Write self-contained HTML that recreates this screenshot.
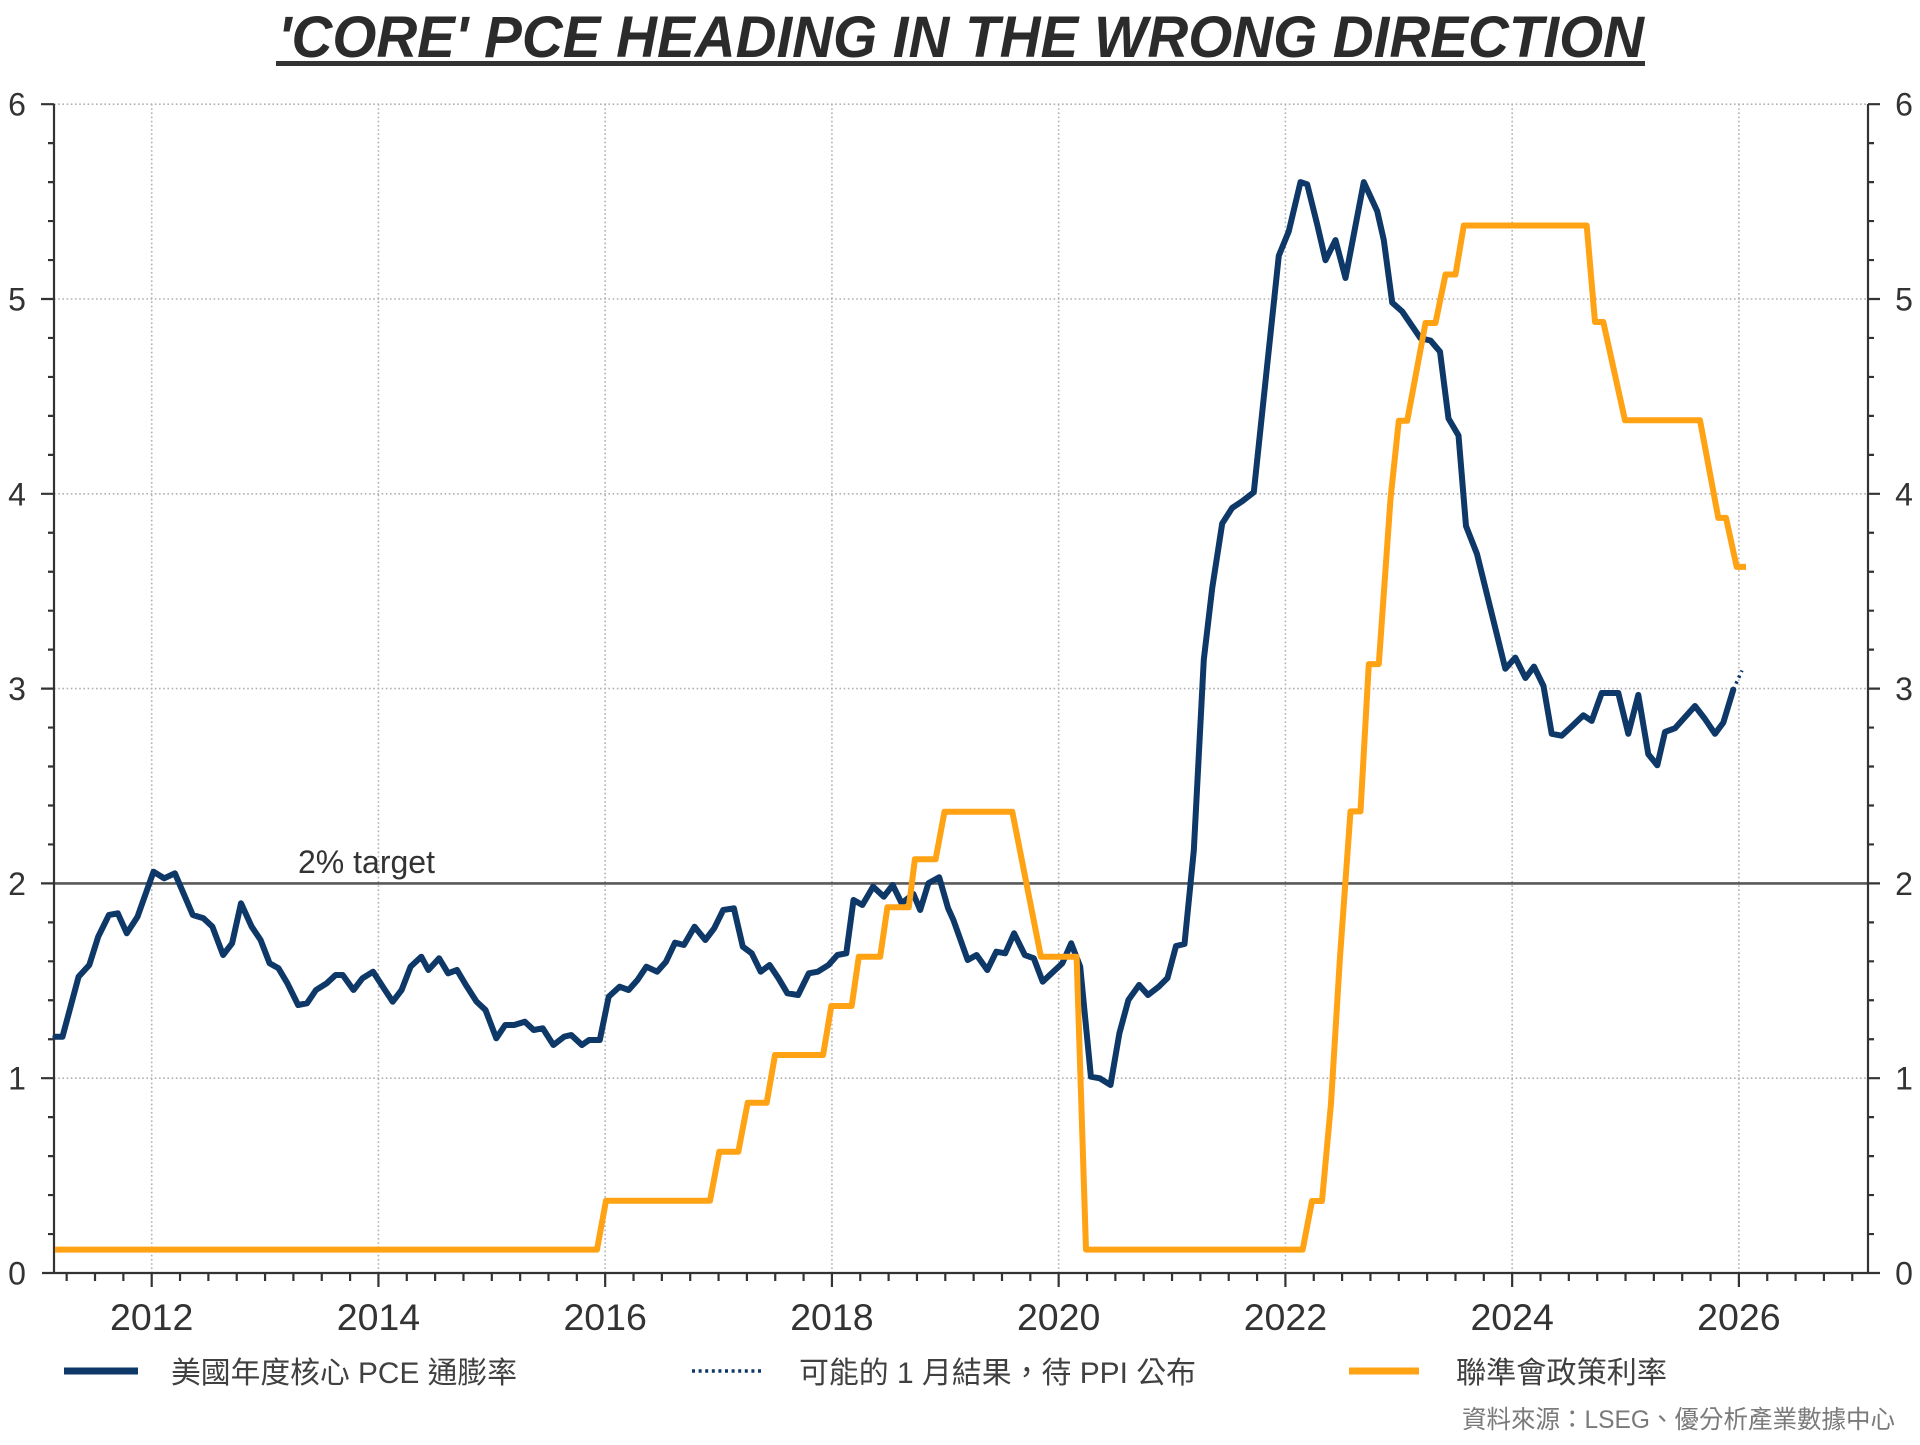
<!DOCTYPE html>
<html>
<head>
<meta charset="utf-8">
<style>
html,body{margin:0;padding:0;background:#fff;}
svg{display:block;}
</style>
</head>
<body>
<svg width="1920" height="1445" viewBox="0 0 1920 1445" xmlns="http://www.w3.org/2000/svg">
<rect x="0" y="0" width="1920" height="1445" fill="#ffffff"/>

<!-- Title -->
<text x="278" y="57" font-family="Liberation Sans, Arial, sans-serif" font-size="58" font-weight="bold" font-style="italic" fill="#2b2b2b" textLength="1366" lengthAdjust="spacingAndGlyphs">'CORE' PCE HEADING IN THE WRONG DIRECTION</text>
<rect x="276" y="61" width="1369" height="5" fill="#333"/>

<!-- Gridlines -->
<g stroke="#b0b0b0" stroke-width="1.6" stroke-dasharray="1.6 2.6" fill="none">
<path d="M151.7 104V1273M378.44 104V1273M605.18 104V1273M831.93 104V1273M1058.67 104V1273M1285.41 104V1273M1512.16 104V1273M1738.9 104V1273"/>
<path d="M54 104.2H1868M54 299H1868M54 493.8H1868M54 688.6H1868M54 1078.2H1868"/>
</g>

<!-- 2% target line -->
<line x1="54" y1="883.4" x2="1868" y2="883.4" stroke="#5a5a5a" stroke-width="2.6"/>
<text x="298" y="873" font-family="Liberation Sans, Arial, sans-serif" font-size="32" fill="#333">2% target</text>

<!-- Axes -->
<g stroke="#333" stroke-width="2.2" fill="none">
<path d="M54 104V1273M1868 104V1273M42 1273H1880"/>
<!-- left y ticks -->
<path d="M41 104.2H54M41 299H54M41 493.8H54M41 688.6H54M41 883.4H54M41 1078.2H54"/>
<path d="M48 1234.04H54M48 1195.08H54M48 1156.12H54M48 1117.16H54M48 1039.24H54M48 1000.28H54M48 961.32H54M48 922.36H54M48 844.44H54M48 805.48H54M48 766.52H54M48 727.56H54M48 649.64H54M48 610.68H54M48 571.72H54M48 532.76H54M48 454.84H54M48 415.88H54M48 376.92H54M48 337.96H54M48 260.04H54M48 221.08H54M48 182.12H54M48 143.16H54"/>
<!-- right y ticks -->
<path d="M1868 104.2H1880M1868 299H1880M1868 493.8H1880M1868 688.6H1880M1868 883.4H1880M1868 1078.2H1880"/>
<path d="M1868 1234.04H1874M1868 1195.08H1874M1868 1156.12H1874M1868 1117.16H1874M1868 1039.24H1874M1868 1000.28H1874M1868 961.32H1874M1868 922.36H1874M1868 844.44H1874M1868 805.48H1874M1868 766.52H1874M1868 727.56H1874M1868 649.64H1874M1868 610.68H1874M1868 571.72H1874M1868 532.76H1874M1868 454.84H1874M1868 415.88H1874M1868 376.92H1874M1868 337.96H1874M1868 260.04H1874M1868 221.08H1874M1868 182.12H1874M1868 143.16H1874"/>
<!-- x major ticks -->
<path d="M151.7 1273V1287M378.44 1273V1287M605.18 1273V1287M831.93 1273V1287M1058.67 1273V1287M1285.41 1273V1287M1512.16 1273V1287M1738.9 1273V1287"/>
<!-- x minor ticks -->
<path d="M66.67 1273V1281M95.01 1273V1281M123.36 1273V1281M180.04 1273V1281M208.38 1273V1281M236.73 1273V1281M265.07 1273V1281M293.41 1273V1281M321.76 1273V1281M350.1 1273V1281M406.78 1273V1281M435.13 1273V1281M463.47 1273V1281M491.81 1273V1281M520.16 1273V1281M548.5 1273V1281M576.84 1273V1281M633.53 1273V1281M661.87 1273V1281M690.21 1273V1281M718.56 1273V1281M746.9 1273V1281M775.24 1273V1281M803.58 1273V1281M860.27 1273V1281M888.61 1273V1281M916.96 1273V1281M945.3 1273V1281M973.64 1273V1281M1001.99 1273V1281M1030.33 1273V1281M1087.01 1273V1281M1115.36 1273V1281M1143.7 1273V1281M1172.04 1273V1281M1200.39 1273V1281M1228.73 1273V1281M1257.07 1273V1281M1313.76 1273V1281M1342.1 1273V1281M1370.44 1273V1281M1398.79 1273V1281M1427.13 1273V1281M1455.47 1273V1281M1483.81 1273V1281M1540.5 1273V1281M1568.84 1273V1281M1597.19 1273V1281M1625.53 1273V1281M1653.87 1273V1281M1682.21 1273V1281M1710.56 1273V1281M1767.24 1273V1281M1795.58 1273V1281M1823.93 1273V1281M1852.27 1273V1281"/>
</g>

<!-- Y labels -->
<g font-family="Liberation Sans, Arial, sans-serif" font-size="32" fill="#333" text-anchor="middle">
<text x="17" y="115.7">6</text>
<text x="17" y="310.5">5</text>
<text x="17" y="505.3">4</text>
<text x="17" y="700.1">3</text>
<text x="17" y="894.9">2</text>
<text x="17" y="1089.7">1</text>
<text x="17" y="1284.5">0</text>
<text x="1904" y="115.7">6</text>
<text x="1904" y="310.5">5</text>
<text x="1904" y="505.3">4</text>
<text x="1904" y="700.1">3</text>
<text x="1904" y="894.9">2</text>
<text x="1904" y="1089.7">1</text>
<text x="1904" y="1284.5">0</text>
</g>

<!-- X labels -->
<g font-family="Liberation Sans, Arial, sans-serif" font-size="37.5" fill="#333" text-anchor="middle">
<text x="151.7" y="1330">2012</text>
<text x="378.44" y="1330">2014</text>
<text x="605.18" y="1330">2016</text>
<text x="831.93" y="1330">2018</text>
<text x="1058.67" y="1330">2020</text>
<text x="1285.41" y="1330">2022</text>
<text x="1512.16" y="1330">2024</text>
<text x="1738.9" y="1330">2026</text>
</g>

<!-- Core PCE (blue) -->
<polyline fill="none" stroke="#0d3868" stroke-width="6" stroke-linejoin="round" stroke-linecap="round" points="
55.4,1036.7 62.5,1036.7 78.6,976.7 89.3,965 98.2,936.7 108.9,915 117.8,913.3 126.8,933.3 137.5,916.7 153.5,871.7 164.2,878.3 174.9,873.3 192.8,915 203.5,918.3 212.4,926.7 223.1,955 232.1,943.3 241,903.3 251.7,926.7 260.6,940 269.6,963.3 278.5,968.3 287.4,983.3 298.1,1005 307,1003.3 316,990 326.7,983.3 335.6,975 342.7,975 353.5,990 362.4,978.3 373.1,971.7 383.8,988.3 392.7,1001.7 401.6,990 410.6,966.7 421.3,956.7 428.4,970 439.1,958.3 448.1,973.3 457,970 465.9,985 476.6,1001.7 485.5,1010 496.3,1038.3 505.2,1025 514.1,1025 524.8,1021.7 533.7,1030 542.7,1028.3 553.4,1045 564.1,1036.7 571.2,1035 581.9,1045 589.1,1040 599.8,1040 608.7,996.7
619.6,986.7 628.6,990 637.5,980 646.4,966.7 657.1,971.7 666,961.7 675,942.7 683.9,945 694.6,926.7 705.3,940 714.2,928.3 723.2,910 733.9,908.3 742.8,946.7 751.7,953.3 760.7,971.7 769.6,965 778.5,978.3 787.4,993.3 798.1,995 808.8,973.3 817.8,971.7 828.5,965 837.4,955 846.3,953.3 853.5,900 862.4,905 873.1,886.7 883.8,896.7 892.7,885 901.7,903.3 913.4,894 920.2,910 928.4,883.3 939.2,877.3 948.1,908.3 953.4,920 967.7,960 976.6,955 987.3,970 996.3,951.7 1005.2,953.3 1014.1,933.3 1024.8,955 1033.8,958.3 1042.7,981.7 1051.6,973.3 1062.3,963.3 1071.2,943.3 1080.2,966.7 1090.9,1076.7 1099.8,1078.3 1110.5,1085 1119.4,1033.3 1128.4,1000 1139.1,985 1148,995 1158.7,986.7
1167.5,978 1176,946 1184.5,944 1193.8,850.6 1203.8,659.6 1212.2,588.2 1222.2,523.5 1232.2,507.9 1242.2,501.2 1253.8,492.2 1267.2,365.1 1278.8,255.7 1288.8,231.2 1300.5,182.1 1307.2,184.3 1317.2,224.5 1325.5,260.2 1335.5,240.1 1345.5,278 1363.8,182.1 1377.2,211.1 1383.8,240.1 1392.2,302.6 1402.2,311.5 1420.5,338.3 1430.5,340.5 1440,351.7 1448.5,418.5 1458.5,435.5 1466,526 1477,554 1505.3,668.7 1515.3,657.6 1525.5,678 1534,666.6 1543.5,686 1551.7,733.8 1561.7,735.7 1571.7,726.4 1583.3,715.3 1591.7,720.9 1601.7,693 1618.3,693 1628.3,733.8 1638.3,694.9 1648.3,754.2 1657.3,765.3 1665,731.9 1675,728.2 1685,717.1 1695,706 1705,719 1715,733.8 1723.3,722.6 1733.3,689.6"/>

<!-- Possible January (dotted) -->
<line x1="1733.3" y1="689.6" x2="1742" y2="670.5" stroke="#0d3868" stroke-width="3.5" stroke-dasharray="2.5 4" stroke-linecap="butt"/>

<!-- Fed funds (orange) -->
<polyline fill="none" stroke="#ffa214" stroke-width="6" stroke-linejoin="round" stroke-linecap="butt" points="
55,1249.6 597,1249.6 606,1200.7 710,1200.7 719.3,1151.7 738.3,1151.7 747.7,1102.7 766.7,1102.7 775,1055 823.1,1055 831.3,1006 851.7,1006 858.8,956.7 880.2,956.7 887.4,907.3 908.8,907.3 914.9,859.3 935.6,859.3 944.5,811.7 1012.3,811.7 1040.9,956.7 1076.6,956.7 1086,1249.6 1302.7,1249.6 1312,1201 1322,1201 1331,1103.5 1340,957 1350.5,811.4 1360.5,811.4 1368.8,664.1 1378.8,664.1 1390.5,499 1398.8,420.8 1407.2,420.8 1425.5,323 1435.5,323 1445.5,274.5 1455.5,274.5 1463.8,225.5 1586.7,225.5 1595,322 1603.3,322 1625,420.3 1700,420.3 1718.3,517.9 1726,517.9 1736.7,566.9 1746,566.9"/>

<!-- Legend -->
<line x1="64" y1="1371" x2="138" y2="1371" stroke="#0d3868" stroke-width="7"/>
<text x="171" y="1383" font-family="Liberation Sans, 'Noto Sans CJK TC', sans-serif" font-size="30" fill="#404040" textLength="346" lengthAdjust="spacingAndGlyphs">美國年度核心 PCE 通膨率</text>

<line x1="692" y1="1371" x2="762" y2="1371" stroke="#0d3868" stroke-width="3.5" stroke-dasharray="3 3.6"/>
<text x="799" y="1383" font-family="Liberation Sans, 'Noto Sans CJK TC', sans-serif" font-size="30" fill="#404040" textLength="397" lengthAdjust="spacingAndGlyphs">可能的 1 月結果，待 PPI 公布</text>

<line x1="1349" y1="1371" x2="1419" y2="1371" stroke="#ffa214" stroke-width="7"/>
<text x="1456" y="1383" font-family="Liberation Sans, 'Noto Sans CJK TC', sans-serif" font-size="30" fill="#404040" textLength="211" lengthAdjust="spacingAndGlyphs">聯準會政策利率</text>

<!-- Source -->
<text x="1462" y="1428" font-family="Liberation Sans, 'Noto Sans CJK TC', sans-serif" font-size="25" fill="#7a7a7a" textLength="433" lengthAdjust="spacingAndGlyphs">資料來源：LSEG、優分析產業數據中心</text>
</svg>
</body>
</html>
